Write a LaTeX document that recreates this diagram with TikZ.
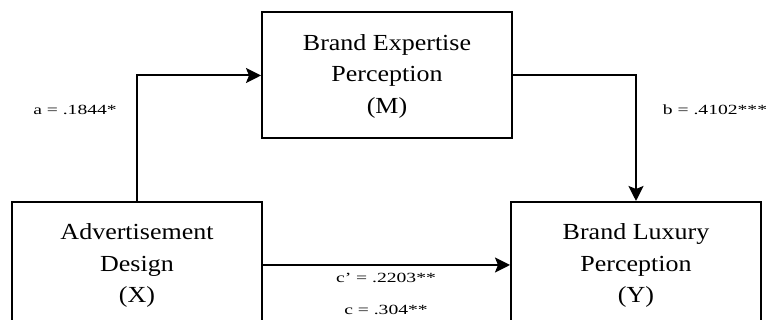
\documentclass[tikz,border=0pt]{standalone}
\usepackage{fontspec}
\setmainfont{Liberation Serif}
\usetikzlibrary{arrows.meta}
\newcommand\boxtxt[1]{\scalebox{1.13}[1]{\fontsize{23}{31.5}\selectfont\begin{tabular}{@{}c@{}}#1\end{tabular}}}
\newcommand\lbltxt[1]{\scalebox{1.4}[1]{\fontsize{14}{16}\selectfont #1}}
\tikzset{
  x=1pt, y=1pt,
  varbox/.style={draw, line width=2pt, rectangle, minimum width=250pt, minimum height=126pt, inner sep=0pt},
  conn/.style={line width=2pt, -{Stealth[length=15pt,width=15pt,inset=3pt]}},
  coef/.style={inner sep=0pt},
}
\begin{document}
\begin{tikzpicture}
\useasboundingbox (0,0) rectangle (772,320);
\clip (0,0) rectangle (772,320);
\node[varbox] (M) at (387,244.5) {\boxtxt{Brand Expertise\\Perception\\(M)}};
\node[varbox] (X) at (137,55) {\boxtxt{Advertisement\\Design\\(X)}};
\node[varbox] (Y) at (636,55) {\boxtxt{Brand Luxury\\Perception\\(Y)}};
\draw[conn] (X.north) |- (M.west);
\draw[conn] (M.east) -| (Y.north);
\draw[conn] (X.east) -- (Y.west);
\node[coef] (la) at (75,210) {\lbltxt{a = .1844*}};
\node[coef] (lb) at (715,210) {\lbltxt{b = .4102***}};
\node[coef] (lc1) at (386,42) {\lbltxt{c' = .2203**}};
\node[coef] (lc2) at (386,10) {\lbltxt{c = .304**}};
\end{tikzpicture}
\end{document}
